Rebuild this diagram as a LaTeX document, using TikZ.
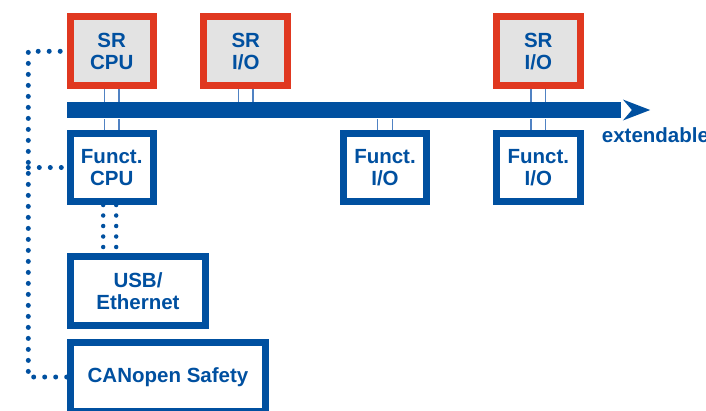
\documentclass[tikz,border=0pt]{standalone}
\usepackage{fontspec}
\setmainfont{Liberation Sans}
\usepackage{tikz}
\usetikzlibrary{arrows.meta, positioning, calc}
\definecolor{busblue}{RGB}{0,80,160}
\definecolor{srred}{RGB}{224,56,32}
\definecolor{srgray}{RGB}{227,227,227}
\definecolor{linkblue}{RGB}{80,130,195}

\begin{document}
\begin{tikzpicture}[x=1bp,y=-1bp,
  every node/.style={inner sep=0pt, text=busblue, font=\fontsize{20.5bp}{22.3bp}\selectfont\bfseries, align=center},
  srbox/.style={draw=srred, fill=srgray, line width=7bp, minimum width=84bp, minimum height=69bp},
  fbox/.style={draw=busblue, fill=white, line width=7bp, minimum width=84bp, minimum height=68bp},
  link/.style={linkblue, line width=1.4bp},
  dotline/.style={busblue, line width=5bp, line cap=round, dash pattern=on 0bp off 11bp}]
\useasboundingbox (0,0) rectangle (706,410);
% bus
\node[fill=busblue, minimum width=554bp, minimum height=16.6bp] (bus) at (343.7,110) {};
\fill[busblue] ($(bus.east)+(2,-10.5)$) -- ($(bus.east)+(29.3,0)$) -- ($(bus.east)+(2,10.5)$) -- ($(bus.east)+(11,0)$) -- cycle;
\node[anchor=base west] (ext) at (601.7,142.3) {extendable};
% safety modules
\node[srbox, minimum width=83bp] (srcpu) at (111.7,51.3) {SR\\CPU};
\node[srbox] (srio1) at (245.8,51.3) {SR\\I/O};
\node[srbox] (srio2) at (538.3,51.3) {SR\\I/O};
% functional modules
\node[fbox, minimum width=83bp] (fcpu) at (111.7,167.5) {Funct.\\CPU};
\node[fbox, minimum width=83bp] (fio1) at (385,167.5) {Funct.\\I/O};
\node[fbox] (fio2) at (538.3,167.5) {Funct.\\I/O};
\node[fbox, minimum width=135.6bp, minimum height=68.7bp] (usb) at (138,291.2) {USB/\\Ethernet};
\node[fbox, minimum width=195.6bp, minimum height=69bp] (canopen) at (168,377) {CANopen Safety};
% links to the bus
\foreach \n in {srcpu,srio1,srio2}
  \foreach \d in {-7.3,7.3} {
    \coordinate (a) at ($(\n.south)+(\d,0)$);
    \draw[link] (a) -- (a |- bus.north);
  }
\foreach \n in {fcpu,fio1,fio2}
  \foreach \d in {-7.3,7.3} {
    \coordinate (a) at ($(\n.north)+(\d,0)$);
    \draw[link] (a) -- (a |- bus.south);
  }
% dotted connections
\coordinate (spine) at (28.3,0);
\draw[dotline, shorten >=4bp] (canopen.west) -- (canopen.west -| spine) -- (srcpu.west -| spine) -- (srcpu.west);
\draw[dotline, shorten >=4bp] (fcpu.west -| spine) -- (fcpu.west);
\foreach \d in {-8.5,4.5} {
  \coordinate (a) at ($(fcpu.south)+(\d,0)$);
  \draw[dotline, line width=4.5bp, dash pattern=on 0bp off 10.5bp] (a) -- (a |- usb.north);
}
\end{tikzpicture}
\end{document}
